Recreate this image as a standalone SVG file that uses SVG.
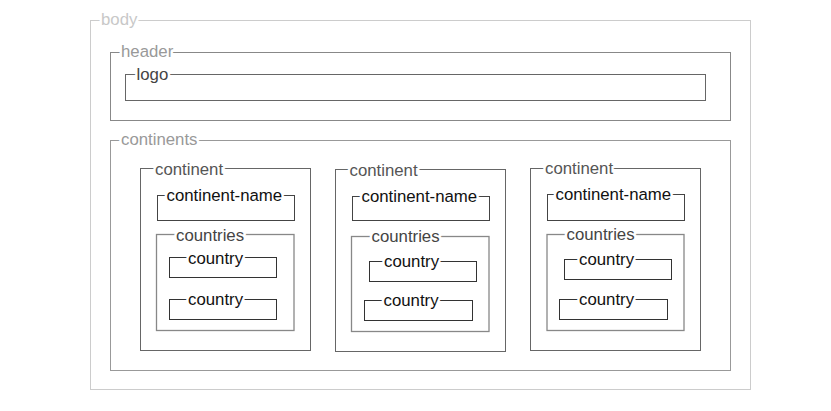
<svg xmlns="http://www.w3.org/2000/svg" width="831" height="411" viewBox="0 0 831 411">
<style>
rect{fill:none;stroke-width:1}
text{font-family:"Liberation Sans",Arial,Helvetica,sans-serif;font-size:16.8px;stroke:#fff;stroke-width:5px;paint-order:stroke;stroke-linejoin:round}
.body rect{stroke:#cccccc}.body text{fill:#c8c8c8}
.header rect{stroke:#888}.header text{fill:#999}
.logo rect{stroke:#666}.logo text{fill:#444}
.continents rect{stroke:#999}.continents text{fill:#999}
.continent rect{stroke:#666}.continent text{fill:#555}
.cname rect{stroke:#444}.cname text{fill:#111}
.countries rect{stroke:#888;stroke-width:1.3}.countries text{fill:#444}
.country rect{stroke:#333}.country text{fill:#111}
</style>
<rect x="0" y="0" width="831" height="411" style="fill:#fff;stroke:none"/>
<g id="body" class="body"><rect x="90.5" y="20.5" width="660" height="369"/><text x="101" y="25">body</text></g>
<g id="header" class="header"><rect x="110.5" y="52.5" width="620" height="68"/><text x="121" y="57">header</text></g>
<g id="logo" class="logo"><rect x="125.5" y="74.5" width="580" height="26"/><text x="136.5" y="79.5">logo</text></g>
<g id="continents" class="continents"><rect x="110.5" y="140.5" width="620" height="230"/><text x="121" y="145">continents</text></g>

<g id="continent1" class="continent"><rect x="140.5" y="168.5" width="170" height="182"/><text x="155" y="175">continent</text></g>
<g id="continent-name1" class="cname"><rect x="157.5" y="195.5" width="137" height="25"/><text x="166.5" y="200.5">continent-name</text></g>
<g id="countries1" class="countries"><rect x="156.5" y="234.5" width="137.5" height="96"/><text x="176" y="240.5">countries</text></g>
<g id="country1a" class="country"><rect x="169.5" y="257.5" width="107" height="20"/><text x="188" y="263.5">country</text></g>
<g id="country1b" class="country"><rect x="169.5" y="299.5" width="107" height="20"/><text x="188" y="305">country</text></g>

<g id="continent2" class="continent"><rect x="335.5" y="169.5" width="170" height="182"/><text x="349.5" y="175.5">continent</text></g>
<g id="continent-name2" class="cname"><rect x="352.5" y="196.5" width="137" height="24"/><text x="361.5" y="201.5">continent-name</text></g>
<g id="countries2" class="countries"><rect x="351.5" y="236.5" width="137.5" height="95"/><text x="371.5" y="242">countries</text></g>
<g id="country2a" class="country"><rect x="369.5" y="261.5" width="107" height="20"/><text x="384" y="267">country</text></g>
<g id="country2b" class="country"><rect x="364.5" y="300.5" width="108" height="20"/><text x="383.5" y="306">country</text></g>

<g id="continent3" class="continent"><rect x="530.5" y="168.5" width="170" height="182"/><text x="545" y="174">continent</text></g>
<g id="continent-name3" class="cname"><rect x="547.5" y="194.5" width="137" height="26"/><text x="555.5" y="199.5">continent-name</text></g>
<g id="countries3" class="countries"><rect x="547" y="234.5" width="137" height="96"/><text x="566.5" y="240">countries</text></g>
<g id="country3a" class="country"><rect x="564.5" y="259.5" width="107" height="20"/><text x="579" y="265">country</text></g>
<g id="country3b" class="country"><rect x="559.5" y="299.5" width="108" height="20"/><text x="579" y="305">country</text></g>
<g id="connectors"/>
</svg>
